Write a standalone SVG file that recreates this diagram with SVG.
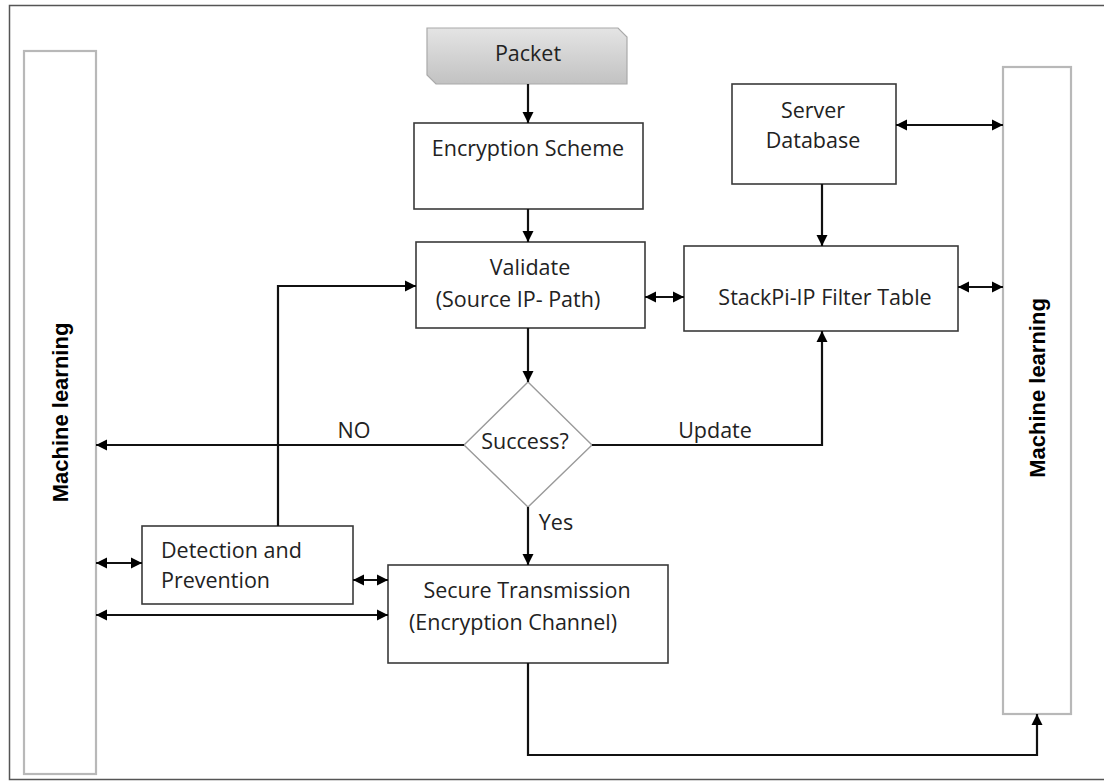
<svg xmlns="http://www.w3.org/2000/svg" width="1104" height="781" viewBox="0 0 1104 781">
<style>
.box{fill:#fff;stroke:#3a3a3a;stroke-width:1.6}
.ml{fill:#fff;stroke:#b8b8b8;stroke-width:2.2}
.dia{fill:#fff;stroke:#9a9a9a;stroke-width:1.4}
.t{font-family:"Open Sans","Noto Sans",sans-serif;font-size:21.5px;fill:#222}
.mlt{font-family:"Liberation Sans",Arial,sans-serif;font-size:22px;font-weight:bold;fill:#000}
.c{fill:none;stroke:#111;stroke-width:2.2}
.one{marker-end:url(#ah)}
.two{marker-start:url(#ah);marker-end:url(#ah)}
</style>
<defs>
<marker id="ah" markerUnits="userSpaceOnUse" markerWidth="12" markerHeight="12" refX="11" refY="6" orient="auto-start-reverse">
<path d="M0,0.5 L11,6 L0,11.5 z" fill="#000"/>
</marker>
<linearGradient id="pg" x1="0" y1="0" x2="0" y2="1">
<stop offset="0" stop-color="#e4e4e4"/>
<stop offset="1" stop-color="#c2c2c2"/>
</linearGradient>
</defs>
<rect x="0" y="0" width="1104" height="781" fill="#fff"/>
<rect x="9.5" y="5.5" width="1100" height="774" fill="none" stroke="#555" stroke-width="1.5"/>

<g id="ml-left">
<rect class="ml" x="24" y="51" width="72" height="723"/>
<text class="mlt" transform="translate(68,412.5) rotate(-90)" text-anchor="middle">Machine learning</text>
</g>
<g id="ml-right">
<rect class="ml" x="1003" y="67" width="68" height="647"/>
<text class="mlt" transform="translate(1045,388) rotate(-90)" text-anchor="middle">Machine learning</text>
</g>
<g id="packet">
<path d="M427,28 H618 L627,37 V84 H436 L427,75 Z" fill="url(#pg)" stroke="#aaa" stroke-width="1.2"/>
<text class="t" x="528" y="61" text-anchor="middle">Packet</text>
</g>
<g id="encryption">
<rect class="box" x="414" y="123" width="229" height="86"/>
<text class="t" x="528" y="156" text-anchor="middle">Encryption Scheme</text>
</g>
<g id="server">
<rect class="box" x="732" y="84" width="164" height="100"/>
<text class="t" x="813" y="118" text-anchor="middle">Server</text>
<text class="t" x="813" y="148" text-anchor="middle">Database</text>
</g>
<g id="validate">
<rect class="box" x="416" y="242" width="229" height="86"/>
<text class="t" x="530" y="275" text-anchor="middle">Validate</text>
<text class="t" x="518" y="307" text-anchor="middle">(Source IP- Path)</text>
</g>
<g id="stackpi">
<rect class="box" x="684" y="246" width="274" height="85"/>
<text class="t" x="825" y="305" text-anchor="middle">StackPi-IP Filter Table</text>
</g>
<g id="success">
<path class="dia" d="M528,382 L592,445 L528,507 L464,445 Z"/>
<text class="t" x="525" y="449" text-anchor="middle">Success?</text>
</g>
<g id="detection">
<rect class="box" x="142" y="526" width="211" height="78"/>
<text class="t" x="161" y="558">Detection and</text>
<text class="t" x="161" y="588">Prevention</text>
</g>
<g id="secure">
<rect class="box" x="388" y="565" width="280" height="98"/>
<text class="t" x="527" y="598" text-anchor="middle">Secure Transmission</text>
<text class="t" x="513" y="630" text-anchor="middle">(Encryption Channel)</text>
</g>

<g id="connectors">
<path class="c one" d="M528,84 V123"/>
<path class="c one" d="M528,209 V242"/>
<path class="c one" d="M528,328 V382"/>
<path class="c one" d="M822,184 V246"/>
<path class="c two" d="M896,125 H1003"/>
<path class="c two" d="M645,297 H684"/>
<path class="c two" d="M958,287 H1003"/>
<path class="c one" d="M464,445 H96"/>
<path class="c one" d="M592,445 H822 V331"/>
<path class="c one" d="M528,507 V565"/>
<path class="c one" d="M278,526 V286 H416"/>
<path class="c two" d="M96,563 H142"/>
<path class="c two" d="M353,580 H388"/>
<path class="c two" d="M96,615 H388"/>
<path class="c one" d="M528,663 V755 H1037 V714"/>
<text class="t" x="354" y="438" text-anchor="middle">NO</text>
<text class="t" x="715" y="438" text-anchor="middle">Update</text>
<text class="t" x="556" y="530" text-anchor="middle">Yes</text>
</g>
</svg>
